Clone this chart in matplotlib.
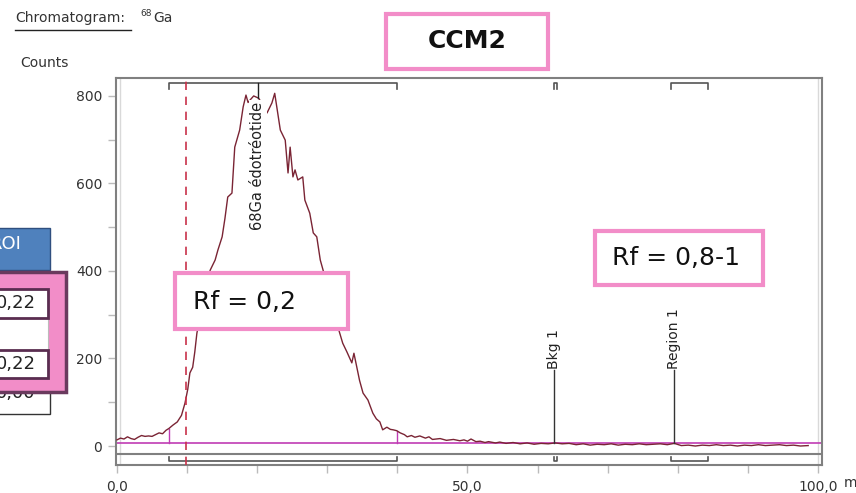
import matplotlib
matplotlib.use("Agg")
import matplotlib.pyplot as plt
from matplotlib.patches import Rectangle

# radio-TLC scan, 68Ga edotreotide
pos_mm = [0.0, 0.5, 1.0, 1.5, 2.0, 2.5, 3.0, 3.5, 4.0, 4.5, 5.0, 5.5, 6.0, 6.5, 7.0, 7.4,
          8.0, 8.6, 9.2, 9.7, 10.1, 10.4, 10.8, 11.1, 11.4, 11.8, 12.1, 12.7, 13.3, 14.0,
          14.4, 15.0, 15.4, 15.8, 16.4, 16.8, 17.5, 18.0, 18.4, 18.7, 19.0, 19.5, 20.2,
          20.8, 21.4, 22.1, 22.5, 23.3, 24.0, 24.4, 24.7, 25.1, 25.4, 25.8, 26.5, 26.8,
          27.5, 28.0, 28.5, 29.0, 29.4, 30.0, 30.6, 31.2, 31.7, 32.2, 32.8, 33.5, 33.8,
          34.2, 34.6, 35.1, 35.8, 36.5, 37.0, 37.5, 37.9, 38.5, 39.0, 39.4, 39.9, 40.4,
          41.0, 41.4, 42.0, 42.5, 43.2, 44.0, 44.5, 45.0, 46.1, 47.0, 48.0, 48.9, 49.5,
          50.0, 50.5, 51.2, 51.8, 52.5, 53.0, 54.0, 54.6, 55.5, 56.5, 57.5, 58.5, 59.5,
          60.5, 61.5, 62.5, 63.5, 64.5, 65.5, 66.5, 67.5, 68.5, 69.5, 70.5, 71.5, 72.5,
          73.5, 74.5, 75.5, 76.5, 77.5, 78.5, 79.5, 80.5, 81.5, 82.5, 83.5, 84.5, 85.5,
          86.5, 87.5, 88.5, 89.5, 90.5, 91.5, 92.5, 93.5, 94.5, 95.5, 96.5, 97.5, 98.6]
counts = [14, 18, 16, 21, 17, 15, 20, 24, 22, 23, 22, 26, 30, 28, 36, 40,
          48, 55, 70, 98, 130, 167, 180, 215, 258, 290, 318, 365, 402, 425,
          448, 478, 520, 569, 578, 683, 722, 775, 802, 785, 791, 800, 795,
          780, 761, 784, 806, 722, 699, 624, 683, 615, 631, 608, 615, 562,
          532, 487, 478, 425, 402, 365, 330, 295, 262, 235, 215, 190, 212,
          181, 150, 121, 105, 75, 62, 55, 37, 43, 38, 37, 35, 30,
          26, 21, 24, 20, 23, 18, 21, 15, 17, 13, 15, 12, 14,
          11, 16, 10, 11, 8, 10, 7, 9, 6, 8, 5, 7, 4,
          6, 5, 7, 5, 6, 3, 5, 2, 4, 3, 5, 2, 4,
          3, 5, 3, 4, 5, 3, 6, 1, 2, 0, 2, 1, 3,
          1, 2, 0, 2, 1, 3, 1, 2, 3, 1, 2, 0, 1]

baseline = 7
peak_region = (7.4, 39.9)
bkg_region = (62.3, 62.7)
region1 = (79.0, 84.3)
origin_mm = 9.85
bkg_pos = 62.3
region1_pos = 79.5
peak_label_pos = 20.1

y_ticks = [0, 200, 400, 600, 800]
x_ticks = [0, 50, 100]
x_tick_labels = ["0,0", "50,0", "100,0"]

W, H = 856, 493
GRAY = "#808080"
PINK = "#f28dc8"
TXT = "#333333"


def fx(px):
    return px / W


def fy(py):
    return 1 - py / H


def fig_rect(fig, x0, y0, x1, y1, **kw):
    r = Rectangle((fx(x0), fy(y1)), (x1 - x0) / W, (y1 - y0) / H,
                  transform=fig.transFigure, **kw)
    fig.add_artist(r)
    return r


fig = plt.figure(figsize=(W / 100, H / 100), dpi=100)
ax = fig.add_axes([fx(116), fy(465), (822 - 116) / W, (465 - 78) / H])
ax.set_xlim(-0.14, 100.57)
ax.set_ylim(-43.4, 841)

for s in ax.spines.values():
    s.set_color(GRAY)
    s.set_linewidth(1.5)

# light guide lines at the scan ends
ax.axvline(0.5, color="#d9d9d9", lw=1, zorder=0)
ax.axvline(100, color="#d9d9d9", lw=1, zorder=0)

# bracket strip under the plot
ax.axhline(-18.3, color=GRAY, lw=1.5)

ax.plot(pos_mm, counts, color="#7a2434", lw=1.0, zorder=3)
ax.axhline(baseline, color="#c03cb4", lw=1.2, zorder=2)

# integration limits of the peak
for xb in peak_region:
    i = min(range(len(pos_mm)), key=lambda k: abs(pos_mm[k] - xb))
    ax.plot([xb, xb], [baseline, counts[i]], color="#c03cb4", lw=1.0, zorder=2)

ax.axvline(origin_mm, color="#c8324a", lw=1.2, ls=(0, (5, 4)), zorder=4)

# region brackets top and bottom
for a, b in [peak_region, bkg_region, region1]:
    ax.plot([a, a, b, b], [816, 830, 830, 816], color="#555555", lw=1.2, clip_on=False)
    ax.plot([a, a, b, b], [-25, -34, -34, -25], color="#555555", lw=1.2)

# peak label
ax.text(peak_label_pos, 494, "68Ga édotréotide", rotation=90, ha="center", va="bottom",
        fontsize=10.5, color="#222222", zorder=5,
        bbox=dict(facecolor="white", edgecolor="none", pad=1))
ax.plot([peak_label_pos, peak_label_pos], [795, 830], color="#222222", lw=1.0, zorder=5)

for xpos, name in [(bkg_pos, "Bkg 1"), (region1_pos, "Region 1")]:
    ax.plot([xpos, xpos], [baseline, 174], color="#333333", lw=1.0, zorder=3)
    ax.text(xpos, 176, name, rotation=90, ha="center", va="bottom",
            fontsize=10, color="#222222")

ax.set_yticks(y_ticks)
ax.set_yticks([100, 300, 500, 700], minor=True)
ax.set_xticks(x_ticks)
ax.set_xticklabels(x_tick_labels)
ax.set_xticks(range(10, 100, 10), minor=True)
ax.tick_params(which="both", direction="out", length=6, color="#bbbbbb",
               labelsize=10, labelcolor=TXT, width=1)
ax.tick_params(axis="x", pad=5)
ax.tick_params(axis="y", pad=4)

# header texts
fig.text(fx(15), fy(18), "Chromatogram:", fontsize=10, color=TXT, va="center")
fig.add_artist(plt.Line2D([fx(15), fx(131)], [fy(30), fy(30)],
                          transform=fig.transFigure, color="#222222", lw=1))
fig.text(fx(140), fy(14), "68", fontsize=6.5, color=TXT, va="center")
fig.text(fx(153), fy(18), "Ga", fontsize=10, color=TXT, va="center")
fig.text(fx(20), fy(63), "Counts", fontsize=10, color=TXT, va="center")
fig.text(fx(844), fy(483), "mm", fontsize=10, color=TXT, va="center")

# annotation boxes
fig_rect(fig, 386, 14, 548, 69, facecolor="white", edgecolor=PINK, lw=3, zorder=10)
fig.text(fx(467), fy(41), "CCM2", fontsize=18, fontweight="bold", color="#111111",
         ha="center", va="center", zorder=11)
fig_rect(fig, 175, 273, 348, 329, facecolor="white", edgecolor=PINK, lw=3, zorder=10)
fig.text(fx(193), fy(302), "Rf = 0,2", fontsize=18, color="#111111",
         ha="left", va="center", zorder=11)
fig_rect(fig, 595, 231, 763, 285, facecolor="white", edgecolor=PINK, lw=3, zorder=10)
fig.text(fx(612), fy(258), "Rf = 0,8-1", fontsize=18, color="#111111",
         ha="left", va="center", zorder=11)

# partial results table on the left edge
fig_rect(fig, -5, 228, 50, 270, facecolor="#4f81bd", edgecolor="#2f4f7f", lw=1, zorder=10)
fig.text(fx(21), fy(244), "ROI", fontsize=13, color="white", ha="right", va="center", zorder=11)
fig_rect(fig, -5, 385, 50, 414, facecolor="white", edgecolor="#333333", lw=1, zorder=9)
fig.text(fx(35), fy(393), "0,00", fontsize=13, color="#222222", ha="right", va="center", zorder=9)
fig_rect(fig, -5, 272, 66, 392, facecolor=PINK, edgecolor="#6a3a5e", lw=2.5, zorder=10)
fig_rect(fig, -5, 318, 48, 350, facecolor="white", edgecolor="#bbbbbb", lw=0.8, zorder=11)
for ytop, ybot in [(289, 318), (350, 378)]:
    fig_rect(fig, -5, ytop, 48, ybot, facecolor="white", edgecolor="#5a2d50", lw=2, zorder=12)
    fig.text(fx(36), fy((ytop + ybot) / 2), "0,22", fontsize=13, color="#222222",
             ha="right", va="center", zorder=13)

fig.savefig("out.png", dpi=100)
